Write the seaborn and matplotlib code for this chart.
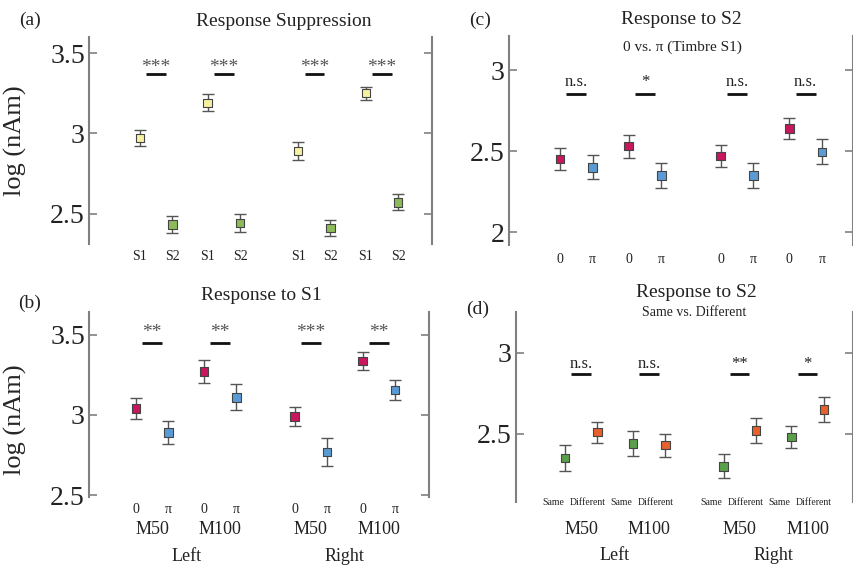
import pandas as pd
import seaborn as sns
import matplotlib.pyplot as plt
from matplotlib.transforms import blended_transform_factory, ScaledTranslation

sns.set_style('white')
plt.rcParams['font.family'] = ['Liberation Serif', 'DejaVu Serif']

# design: hemisphere x component x condition
hemis = ['Left', 'Left', 'Left', 'Left', 'Right', 'Right', 'Right', 'Right']
comps = ['M50', 'M50', 'M100', 'M100', 'M50', 'M50', 'M100', 'M100']

# (a) response suppression
supp_cond = ['S1', 'S2'] * 4
supp_mean = [2.97, 2.43, 3.19, 2.44, 2.89, 2.41, 3.25, 2.57]
supp_err = [0.048, 0.053, 0.054, 0.055, 0.055, 0.052, 0.041, 0.050]
supp_sig = ['***', '***', '***', '***']

# (b) response to S1
s1_cond = ['0', 'π'] * 4
s1_mean = [3.04, 2.89, 3.27, 3.11, 2.99, 2.77, 3.335, 3.155]
s1_err = [0.065, 0.072, 0.070, 0.080, 0.058, 0.087, 0.056, 0.063]
s1_sig = ['**', '**', '***', '**']

# (c) response to S2, 0 vs pi
phase_cond = ['0', 'π'] * 4
phase_mean = [2.45, 2.40, 2.53, 2.35, 2.47, 2.35, 2.64, 2.495]
phase_err = [0.070, 0.075, 0.070, 0.078, 0.067, 0.078, 0.064, 0.078]
phase_sig = ['n.s.', '*', 'n.s.', 'n.s.']

# (d) response to S2, same vs different
timbre_cond = ['Same', 'Different'] * 4
timbre_mean = [2.35, 2.51, 2.44, 2.43, 2.30, 2.52, 2.48, 2.65]
timbre_err = [0.079, 0.064, 0.077, 0.070, 0.074, 0.076, 0.065, 0.077]
timbre_sig = ['n.s.', 'n.s.', '**', '*']

W, H = 854, 569
fig = plt.figure(figsize=(W / 100, H / 100), dpi=100)


def px(x0, y0, x1, y1):
    return [x0 / W, 1 - y1 / H, (x1 - x0) / W, (y1 - y0) / H]


def make_df(cond, mean, err):
    df = pd.DataFrame({'hemi': hemis, 'comp': comps, 'cond': cond,
                       'mean': mean, 'err': err})
    h = (df['hemi'] == 'Right').astype(int)
    c = (df['comp'] == 'M100').astype(int)
    k = df.groupby(['hemi', 'comp']).cumcount()
    df['x'] = h * 4.9 + c * 2.1 + k
    return df


def panel(rect, df, palette, xlim, ylim, yticks, sig, bar_y, txt_y, sig_col,
          sig_fs, cat_fs, cat_pad):
    ax = fig.add_axes(rect)
    ax.errorbar(df['x'], df['mean'], yerr=df['err'], fmt='none', ecolor='#555555',
                elinewidth=1, capsize=4, capthick=1, zorder=2)
    sns.scatterplot(data=df, x='x', y='mean', hue='cond', palette=palette,
                    marker='s', s=38, edgecolor='#444444', linewidth=0.8,
                    legend=False, ax=ax, zorder=3)
    ax.set_xlim(xlim)
    ax.set_ylim(ylim)
    ax.set_xlabel('')
    ax.set_ylabel('')
    ax.set_yticks(yticks)
    ax.set_yticklabels([f'{t:g}' for t in yticks])
    ax.yaxis.set_ticks_position('both')
    ax.tick_params(axis='y', direction='in', length=6, width=1.2, color='#808080',
                   labelsize=20, pad=3, labelcolor='#222222')
    ax.set_xticks(df['x'])
    ax.set_xticklabels(df['cond'])
    ax.tick_params(axis='x', length=0, labelsize=cat_fs, pad=cat_pad,
                   labelcolor='#222222')
    for s in ['top', 'bottom']:
        ax.spines[s].set_visible(False)
    for s in ['left', 'right']:
        ax.spines[s].set_color('#808080')
        ax.spines[s].set_linewidth(1.5)
    centers = df.groupby(['hemi', 'comp'], sort=False)['x'].mean().values
    for cx, lab in zip(centers, sig):
        ax.plot([cx - 0.3, cx + 0.3], [bar_y, bar_y], color='#111111', lw=2,
                solid_capstyle='butt')
        ax.text(cx, txt_y, lab, ha='center', va='center', fontsize=sig_fs,
                color=sig_col)
    return ax


def group_labels(ax, df, y_comp, y_hemi):
    tr = blended_transform_factory(ax.transData, ax.transAxes)
    for (h, c), g in df.groupby(['hemi', 'comp'], sort=False):
        ax.text(g['x'].mean(), y_comp, c, transform=tr, ha='center', va='center',
                fontsize=13, color='#222222')
    for h, g in df.groupby('hemi', sort=False):
        ax.text(g['x'].mean(), y_hemi, h, transform=tr, ha='center', va='center',
                fontsize=13, color='#222222')


pal_a = {'S1': '#f6f1a2', 'S2': '#8dbb5a'}
pal_phase = {'0': '#c8175d', 'π': '#5b9bd5'}
pal_d = {'Same': '#5aa04a', 'Different': '#e8602c'}

df_a = make_df(supp_cond, supp_mean, supp_err)
ax_a = panel(px(89, 37, 432, 244), df_a, pal_a, (-1.58, 9.05), (2.31, 3.60),
             [2.5, 3, 3.5], supp_sig, 3.37, 3.41, '#555555', 14, 10, 4)
ax_a.set_ylabel('log (nAm)', fontsize=19)
ax_a.yaxis.set_label_coords(-0.181, 0.5)

df_b = make_df(s1_cond, s1_mean, s1_err)
ax_b = panel(px(89, 312, 429, 497), df_b, pal_phase, (-1.45, 9.05), (2.49, 3.64),
             [2.5, 3, 3.5], s1_sig, 3.45, 3.515, '#555555', 14, 10, 4)
ax_b.set_ylabel('log (nAm)', fontsize=19)
ax_b.yaxis.set_label_coords(-0.182, 0.42)
group_labels(ax_b, df_b, -0.178, -0.324)

df_c = make_df(phase_cond, phase_mean, phase_err)
ax_c = panel(px(509, 36, 853, 245), df_c, pal_phase, (-1.55, 8.94), (1.92, 3.21),
             [2, 2.5, 3], phase_sig, 2.855, 2.925, '#222222', 12, 10, 6)

df_d = make_df(timbre_cond, timbre_mean, timbre_err)
ax_d = panel(px(516, 312, 853, 502), df_d, pal_d, (-1.51, 8.90), (2.08, 3.25),
             [2.5, 3], timbre_sig, 2.866, 2.93, '#222222', 12, 7, -3)
group_labels(ax_d, df_d, -0.147, -0.284)
# the Same/Different labels sit a little left of their markers
for lab in ax_d.get_xticklabels():
    dx = -12 if lab.get_text() == 'Same' else -10
    lab.set_transform(lab.get_transform() +
                      ScaledTranslation(dx / 100, 0, fig.dpi_scale_trans))


def ftext(x, y, s, fs):
    fig.text(x / W, 1 - y / H, s, ha='center', va='center', fontsize=fs,
             color='#222222')


ftext(30, 20, '(a)', 14)
ftext(284, 21, 'Response Suppression', 14)
ftext(30, 303, '(b)', 14)
ftext(261, 295, 'Response to S1', 14)
ftext(480, 20, '(c)', 14)
ftext(681, 20, 'Response to S2', 14)
ftext(682, 47, '0 vs. π (Timbre S1)', 11)
ftext(478, 309, '(d)', 14)
ftext(696, 293, 'Response to S2', 14)
ftext(694, 313, 'Same vs. Different', 10)

fig.savefig('out.png', dpi=100)
